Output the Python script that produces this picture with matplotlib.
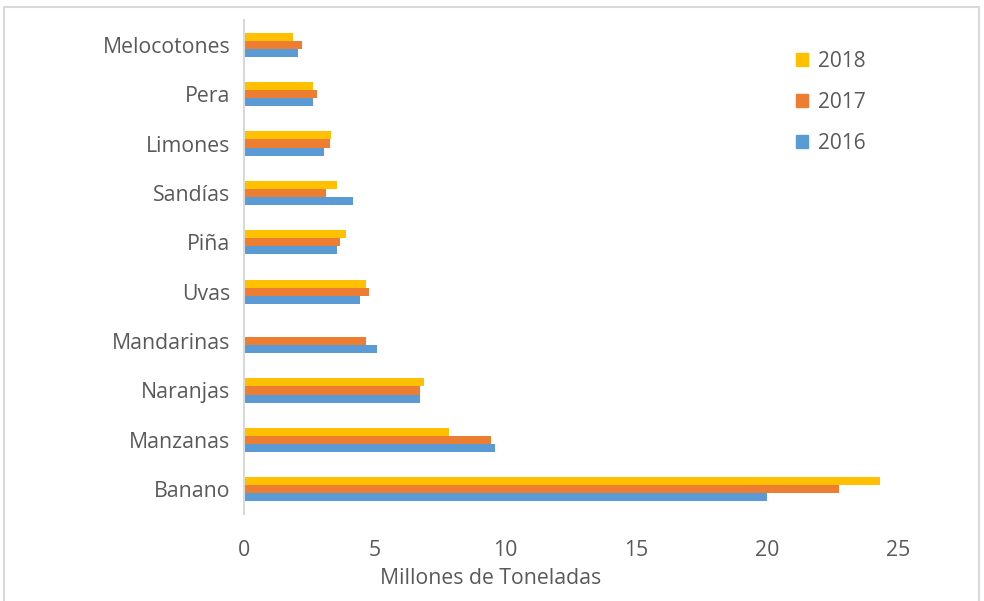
import numpy as np
from matplotlib import pyplot as plt
from matplotlib.patches import Rectangle, Patch


frutas = ['Banano', 'Manzanas', 'Naranjas', 'Mandarinas', 'Uvas',
          'Piña', 'Sandías', 'Limones', 'Pera', 'Melocotones']
v2016 = [20.0, 9.58, 6.74, 5.07, 4.44, 3.55, 4.18, 3.07, 2.64, 2.08]
v2017 = [22.76, 9.45, 6.74, 4.66, 4.79, 3.68, 3.13, 3.27, 2.78, 2.23]
v2018 = [24.3, 7.85, 6.87, 0.0, 4.66, 3.9, 3.55, 3.33, 2.64, 1.88]
x_ticks = [0, 5, 10, 15, 20, 25]

colores = {'2016': '#5B9BD5', '2017': '#ED7D31', '2018': '#FFC000'}
texto = '#595959'


def main():
    plt.rcParams['font.family'] = ['Open Sans', 'DejaVu Sans']
    fig = plt.figure(figsize=(9.84, 6.01), dpi=100)
    ax = fig.add_axes([0.248, 0.1448, 0.9126 - 0.248, 0.9667 - 0.1448])

    y = np.arange(len(frutas))
    h = 0.163
    ax.barh(y - h, v2016, height=h, color=colores['2016'], label='2016')
    ax.barh(y, v2017, height=h, color=colores['2017'], label='2017')
    ax.barh(y + h, v2018, height=h, color=colores['2018'], label='2018')

    ax.set_ylim(-0.5, len(frutas) - 0.5)
    ax.set_xlim(0, 25)
    ax.set_yticks(y)
    ax.set_yticklabels(frutas)
    ax.set_xticks(x_ticks)

    for s in ['top', 'right', 'bottom']:
        ax.spines[s].set_visible(False)
    ax.spines['left'].set_color('#d9d9d9')
    ax.spines['left'].set_linewidth(1.5)
    ax.tick_params(axis='both', length=0, colors=texto, labelsize=15.3)
    ax.tick_params(axis='y', pad=10)
    ax.tick_params(axis='x', pad=19)

    fig.text(0.499, 1 - 578 / 601, 'Millones de Toneladas', ha='center',
             va='center', fontsize=15.3, color=texto)

    handles = [Patch(color=colores[k]) for k in ['2018', '2017', '2016']]
    ax.legend(handles, ['2018', '2017', '2016'], loc='upper left',
              bbox_to_anchor=(0.815, 0.975), frameon=False, fontsize=15,
              handlelength=0.6, handleheight=0.6, handletextpad=0.45,
              labelspacing=0.95, labelcolor=texto)

    # borde exterior del grafico
    fig.patches.append(Rectangle((4 / 984, -0.05), 975 / 984, 1.05 - 7 / 601,
                                 transform=fig.transFigure, fill=False,
                                 edgecolor='#d9d9d9', linewidth=1.5))

    plt.savefig('out.png', dpi=100)
    plt.close()


if __name__ == '__main__':
    main()
